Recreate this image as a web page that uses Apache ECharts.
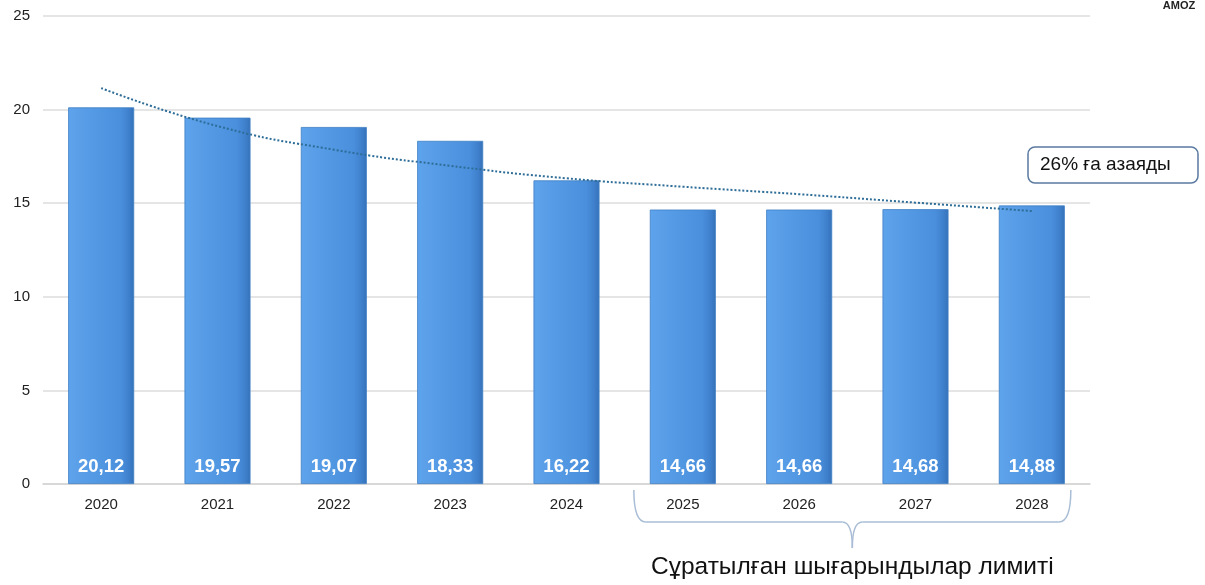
<!DOCTYPE html>
<html><head><meta charset="utf-8">
<script src="https://cdn.jsdelivr.net/npm/echarts@6/dist/echarts.min.js"></script>
<style>html,body{margin:0;padding:0;background:#fff}#c{width:1205px;height:585px}</style>
</head><body><div id="c"></div>
<script>
const categories = ['2020','2021','2022','2023','2024','2025','2026','2027','2028'];
const emissions = [20.12, 19.57, 19.07, 18.33, 16.22, 14.66, 14.66, 14.68, 14.88];
const trend = [21.15, 19.12, 17.86, 17.0, 16.33, 15.88, 15.48, 15.03, 14.58];
const yTicks = [0, 5, 10, 15, 20, 25];
const noteText = '26% ға азаяды';
const braceText = 'Сұратылған шығарындылар лимиті';
const braceRange = ['2025', '2028'];

const chart = echarts.init(document.getElementById('c'), null, {renderer:'canvas'});
const font = 'Arial, "Liberation Sans", sans-serif';
chart.setOption({
  animation: false,
  grid: {left: 43, right: 115, top: 16, bottom: 101},
  xAxis: {
    type: 'category', data: categories,
    axisLine: {lineStyle: {color: '#d4d4d4', width: 1.5}},
    axisTick: {show: false},
    axisLabel: {color: '#222', fontSize: 15, fontFamily: font, margin: 13}
  },
  yAxis: {
    type: 'value', min: yTicks[0], max: yTicks[yTicks.length-1], interval: 5,
    axisLabel: {color: '#222', fontSize: 15, fontFamily: font, margin: 13},
    splitLine: {lineStyle: {color: '#dcdcdc', width: 1.5}},
    axisLine: {show: false}, axisTick: {show: false}
  },
  series: [{
    type: 'bar', data: emissions, barWidth: 66,
    itemStyle: {
      color: new echarts.graphic.LinearGradient(0, 0, 1, 0, [
        {offset: 0, color: '#5ea4ec'},
        {offset: 0.15, color: '#5a9fe8'},
        {offset: 0.8, color: '#4a8fdc'},
        {offset: 0.92, color: '#3f80cc'},
        {offset: 1, color: '#3571b8'}
      ]),
      borderColor: '#3f7fc4', borderWidth: 0.8
    },
    label: {
      show: true, position: 'insideBottom', distance: 8,
      color: '#fff', fontSize: 18.5, fontWeight: 'bold', fontFamily: font,
      formatter: p => p.value.toFixed(2).replace('.', ',')
    },
    z: 2
  }, {
    type: 'line', data: trend, smooth: 0.5, symbol: 'none',
    lineStyle: {color: '#2d6d98', width: 2, type: [2, 2]},
    z: 3
  }]
});

function drawExtras() {
  const x0 = chart.convertToPixel({xAxisIndex: 0}, braceRange[0]);
  const x1 = chart.convertToPixel({xAxisIndex: 0}, braceRange[1]);
  const left = x0 - 49, right = x1 + 39;
  const mid = (left + right) / 2;
  const top = 490, yb = 522, tip = 548;
  const st = {stroke: '#a9bdd6', lineWidth: 1.5, fill: null};
  chart.setOption({
    graphic: [
      {type: 'bezierCurve', shape: {x1: left, y1: top, cpx1: left, cpy1: yb, x2: left + 12, y2: yb}, style: st},
      {type: 'line', shape: {x1: left + 12, y1: yb, x2: mid - 10, y2: yb}, style: st},
      {type: 'bezierCurve', shape: {x1: mid - 10, y1: yb, cpx1: mid, cpy1: yb, x2: mid, y2: tip}, style: st},
      {type: 'bezierCurve', shape: {x1: mid + 10, y1: yb, cpx1: mid, cpy1: yb, x2: mid, y2: tip}, style: st},
      {type: 'line', shape: {x1: mid + 10, y1: yb, x2: right - 12, y2: yb}, style: st},
      {type: 'bezierCurve', shape: {x1: right, y1: top, cpx1: right, cpy1: yb, x2: right - 12, y2: yb}, style: st},
      {type: 'text', x: mid, y: 567, style: {text: braceText, fill: '#111', font: '24.5px ' + font, textAlign: 'center', textVerticalAlign: 'middle'}},
      {type: 'rect', shape: {x: 1028, y: 147, width: 170, height: 36, r: 7}, style: {fill: '#fff', stroke: '#5a7aa0', lineWidth: 1.5}},
      {type: 'text', x: 1040, y: 165, style: {text: noteText, fill: '#111', font: '19px ' + font, textVerticalAlign: 'middle'}},
      {type: 'text', x: 1179, y: 6, style: {text: 'AMOZ', fill: '#222', font: 'bold 11px ' + font, textAlign: 'center', textVerticalAlign: 'middle'}}
    ]
  });
}
drawExtras();
</script></body></html>
